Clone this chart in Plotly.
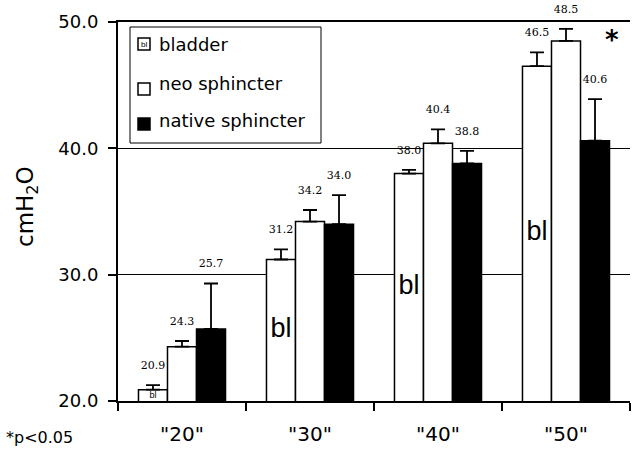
import plotly.graph_objects as go

# ---- data ----
categories = ['"20"', '"30"', '"40"', '"50"']
series_names = ["bladder", "neo sphincter", "native sphincter"]
bladder = [20.9, 31.2, 38.0, 46.5]
neo = [24.3, 34.2, 40.4, 48.5]
native = [25.7, 34.0, 38.8, 40.6]
bladder_err = [0.35, 0.8, 0.3, 1.1]
neo_err = [0.45, 0.92, 1.1, 0.95]
native_err = [3.6, 2.3, 1.0, 3.3]
y_ticks = [20, 30, 40, 50]
y_tick_labels = ["20.0", "30.0", "40.0", "50.0"]
bar_label = "bl"

W, H = 634, 453
L, R, T, B = 118, 630, 22, 401
PX_PER_UNIT = (B - T) / (y_ticks[-1] - y_ticks[0])


def px(x):
    return (x - L) / (R - L)


def py(y):
    return (B - y) / (B - T)


series = [
    (series_names[0], bladder, bladder_err, "white"),
    (series_names[1], neo, neo_err, "white"),
    (series_names[2], native, native_err, "black"),
]

fig = go.Figure()
for i, (name, vals, errs, color) in enumerate(series):
    fig.add_trace(go.Bar(
        x=categories, y=vals, name=name,
        offsetgroup=str(i), alignmentgroup="g",
        marker=dict(color=color, line=dict(color="black", width=1.5)),
        error_y=dict(type="data", array=errs, arrayminus=[0] * len(errs),
                     symmetric=False, color="black", thickness=1.8, width=7),
        showlegend=False, hoverinfo="skip",
    ))

# value labels above the error bars
for i, (name, vals, errs, color) in enumerate(series):
    fig.add_trace(go.Scatter(
        x=categories, y=[v + e for v, e in zip(vals, errs)],
        offsetgroup=str(i), alignmentgroup="g",
        mode="markers+text",
        marker=dict(size=20, color="rgba(0,0,0,0)"),
        text=[f"{v:.1f}" for v in vals], textposition="top center",
        textfont=dict(family="DejaVu Serif", size=11, color="black"),
        cliponaxis=False, showlegend=False, hoverinfo="skip",
    ))

# "bl" marks in the middle of the bladder bars (shrunk when the bar is short)
bl_sizes = [min(27, max(8, (v - y_ticks[0]) * PX_PER_UNIT * 0.8)) for v in bladder]
fig.add_trace(go.Scatter(
    x=categories, y=[(y_ticks[0] + v) / 2 for v in bladder],
    offsetgroup="0", alignmentgroup="g",
    mode="text", text=[bar_label] * len(bladder), textposition="middle center",
    textfont=dict(family="Liberation Sans", size=bl_sizes, color="black"),
    cliponaxis=False, showlegend=False, hoverinfo="skip",
))
# dummy groups so the text trace aligns with the bladder bars
for i in (1, 2):
    fig.add_trace(go.Scatter(
        x=categories, y=[None] * len(categories),
        offsetgroup=str(i), alignmentgroup="g", mode="markers",
        marker=dict(size=1, color="rgba(0,0,0,0)"),
        showlegend=False, hoverinfo="skip",
    ))

shapes = []
annotations = []

# manual legend
shapes.append(dict(type="rect", xref="paper", yref="paper",
                   x0=px(130), x1=px(321), y0=py(143), y1=py(27),
                   line=dict(color="black", width=1), fillcolor="white", layer="above"))
sym_y = [44, 89, 124]
txt_y = [45, 83, 120]
leg_fill = ["white", "white", "black"]
for name, ys, yt, fc in zip(series_names, sym_y, txt_y, leg_fill):
    shapes.append(dict(type="rect", xref="paper", yref="paper",
                       x0=px(138), x1=px(150), y0=py(ys + 6), y1=py(ys - 6),
                       line=dict(color="black", width=1.5), fillcolor=fc, layer="above"))
    annotations.append(dict(xref="paper", yref="paper", x=px(157), y=py(yt),
                            xanchor="left", yanchor="middle", showarrow=False,
                            text=name, font=dict(family="DejaVu Sans", size=18, color="black")))
annotations.append(dict(xref="paper", yref="paper", x=px(144), y=py(sym_y[0]),
                        xanchor="center", yanchor="middle", showarrow=False,
                        text=bar_label, font=dict(family="Liberation Sans", size=8, color="black")))

# significance star
annotations.append(dict(xref="x", yref="y", x=categories[3], y=48.6, xshift=46,
                        showarrow=False, text="<b>*</b>",
                        font=dict(family="DejaVu Sans", size=26, color="black")))
# footnote
annotations.append(dict(xref="paper", yref="paper", x=px(4), y=py(437),
                        xanchor="left", yanchor="middle", showarrow=False,
                        text="*p<0.05", font=dict(family="DejaVu Sans", size=16, color="black")))
# y title
annotations.append(dict(xref="paper", yref="paper", x=px(27), y=py(207),
                        xanchor="center", yanchor="middle", showarrow=False, textangle=-90,
                        text="cmH<sub>2</sub>O", font=dict(family="DejaVu Sans", size=23, color="black")))

fig.update_layout(
    width=W, height=H,
    margin=dict(l=L, r=W - R, t=T, b=H - B, pad=0),
    plot_bgcolor="white", paper_bgcolor="white",
    barmode="group", bargap=0.32, bargroupgap=0,
    scattermode="group", scattergap=0.32,
    shapes=shapes, annotations=annotations,
    showlegend=False,
    xaxis=dict(type="category", categoryorder="array", categoryarray=categories,
               range=[-0.5, 3.5],
               showline=True, linecolor="black", linewidth=2, mirror=True,
               ticks="outside", tickson="boundaries", ticklen=8, tickwidth=1.5, tickcolor="black",
               tickfont=dict(family="DejaVu Sans", size=20, color="black"),
               ticklabelstandoff=14, showgrid=False),
    yaxis=dict(range=[20, 50], tickvals=y_ticks, ticktext=y_tick_labels,
               showline=True, linecolor="black", linewidth=2,
               ticks="outside", ticklen=8, tickwidth=1.5, tickcolor="black",
               tickfont=dict(family="DejaVu Sans", size=18, color="black"),
               ticklabelstandoff=6,
               showgrid=True, gridcolor="black", gridwidth=1, zeroline=False),
)

fig.write_html("out.html")
